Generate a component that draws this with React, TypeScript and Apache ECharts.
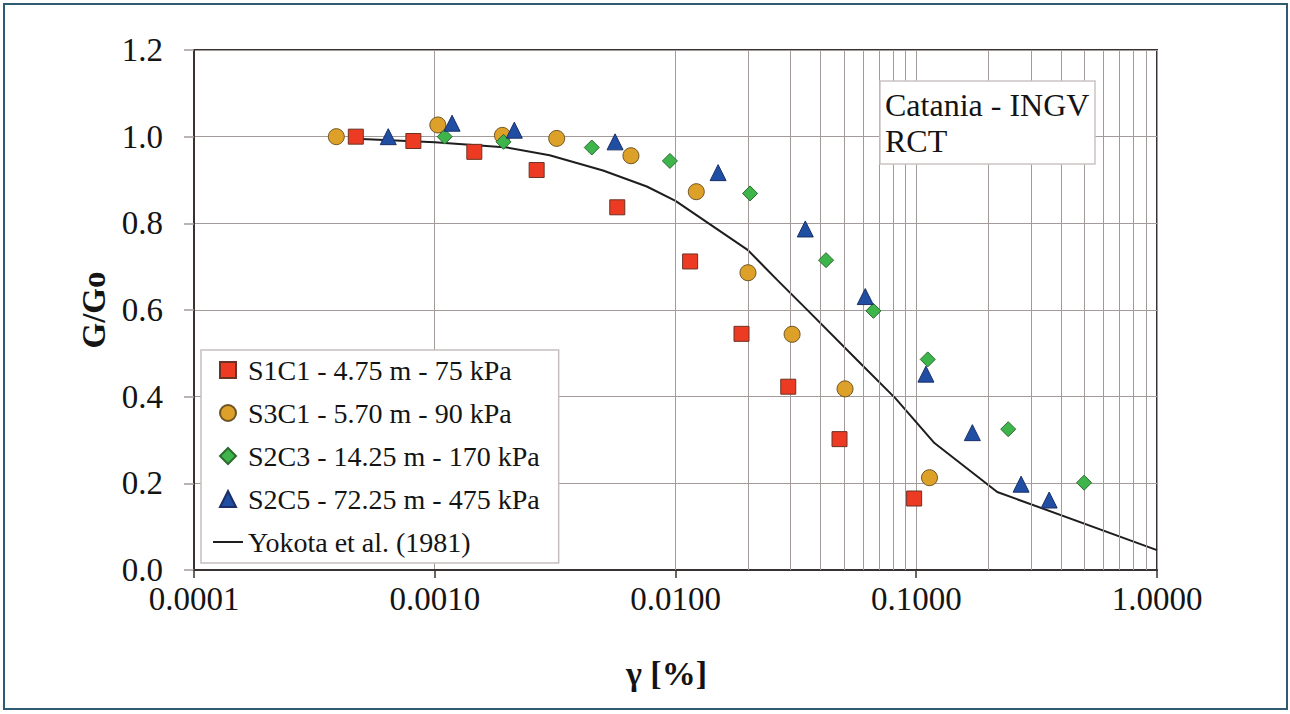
import { useEffect, useRef } from "react";
import * as echarts from "echarts";

// ---- data ----
const seriesNames = [
  "S1C1 - 4.75 m - 75 kPa",
  "S3C1 - 5.70 m - 90 kPa",
  "S2C3 - 14.25 m - 170 kPa",
  "S2C5 - 72.25 m - 475 kPa",
  "Yokota et al. (1981)",
];

const s1c1Strain = [0.00047, 0.000815, 0.00146, 0.00265, 0.00573, 0.0115, 0.0188, 0.0294, 0.048, 0.098];
const s1c1Ratio = [1.0, 0.99, 0.965, 0.923, 0.837, 0.712, 0.545, 0.423, 0.302, 0.165];

const s3c1Strain = [0.00039, 0.00103, 0.00191, 0.00321, 0.00653, 0.0122, 0.02, 0.0305, 0.0506, 0.1135];
const s3c1Ratio = [1.0, 1.027, 1.003, 0.996, 0.956, 0.873, 0.686, 0.544, 0.418, 0.213];

const s2c3Strain = [0.0011, 0.00193, 0.00449, 0.00948, 0.0204, 0.0422, 0.0664, 0.1116, 0.241, 0.498];
const s2c3Ratio = [1.0, 0.988, 0.975, 0.944, 0.869, 0.715, 0.598, 0.486, 0.325, 0.2015];

const s2c5Strain = [0.000641, 0.00118, 0.00214, 0.00561, 0.01503, 0.0346, 0.0614, 0.1097, 0.171, 0.2726, 0.3565];
const s2c5Ratio = [1.0, 1.031, 1.015, 0.988, 0.917, 0.787, 0.631, 0.452, 0.317, 0.198, 0.1615];

const yokotaStrain = [0.00047, 0.001, 0.002, 0.003, 0.005, 0.0076, 0.01, 0.02, 0.0265, 0.035, 0.0576, 0.082, 0.119, 0.217, 1.0];
const yokotaRatio = [0.995, 0.987, 0.975, 0.957, 0.922, 0.885, 0.852, 0.738, 0.669, 0.602, 0.481, 0.396, 0.293, 0.18, 0.046];

const annotationLines = ["Catania - INGV", "RCT"];

const FONT = "Liberation Serif";
const AXIS_COLOR = "#3a3232";
const GRID_COLOR = "#a39a9a";

// legend icons (aspect kept inside the 30x16 legend item box)
const ICON_SQUARE = "path://M0,0H16V16H0Z";
const ICON_CIRCLE = "path://M8,0A8,8 0 1,1 8,16A8,8 0 1,1 8,0Z";
const ICON_DIAMOND = "path://M8,0L16,8L8,16L0,8Z";
const ICON_TRIANGLE = "path://M8,0L16,16L0,16Z";
const ICON_LINE = "path://M0,0H30V2H0Z";

function pairs(xs: number[], ys: number[]) {
  return xs.map((x, i) => [x, ys[i]]);
}

export default function App() {
  const ref = useRef<HTMLDivElement>(null);

  useEffect(() => {
    if (!ref.current) return;
    const chart = echarts.init(ref.current, null, { renderer: "svg" });

    // minor vertical grid lines at 2..9 x 10^k (log axis)
    const minorGrid: number[] = [];
    for (let k = -4; k < 0; k++) {
      for (let m = 2; m <= 9; m++) minorGrid.push(Number((m * Math.pow(10, k)).toPrecision(3)));
    }

    const scatterBase = (name: string, xs: number[], ys: number[], symbol: string, size: number, color: string, border: string) => ({
      name,
      type: "scatter",
      data: pairs(xs, ys),
      symbol,
      symbolSize: size,
      z: 5,
      itemStyle: { color, borderColor: border, borderWidth: 1, opacity: 1 },
    });

    const option: any = {
      animation: false,
      backgroundColor: "#ffffff",
      textStyle: { fontFamily: FONT },
      grid: {
        left: 194,
        right: 133,
        top: 50,
        bottom: 144,
        show: true,
        borderColor: AXIS_COLOR,
        borderWidth: 2,
        backgroundColor: "transparent",
      },
      legend: {
        orient: "vertical",
        left: 201,
        top: 350,
        data: [
          { name: seriesNames[0], icon: ICON_SQUARE },
          { name: seriesNames[1], icon: ICON_CIRCLE },
          { name: seriesNames[2], icon: ICON_DIAMOND },
          { name: seriesNames[3], icon: ICON_TRIANGLE },
          { name: seriesNames[4], icon: ICON_LINE },
        ],
        symbolKeepAspect: true,
        itemWidth: 30,
        itemHeight: 16,
        itemGap: 7,
        padding: [2, 19, 3, 12],
        backgroundColor: "#ffffff",
        borderColor: "#c6bebe",
        borderWidth: 1.5,
        borderRadius: 0,
        selectedMode: false,
        textStyle: { fontFamily: FONT, fontSize: 28, color: "#141414", lineHeight: 36 },
      },
      xAxis: {
        type: "log",
        logBase: 10,
        min: 0.0001,
        max: 1,
        name: "γ [%]",
        nameLocation: "middle",
        nameGap: 86,
        nameTextStyle: {
          fontFamily: FONT,
          fontSize: 34,
          fontWeight: "bold",
          color: "#141414",
          padding: [0, 18, 0, 0],
        },
        axisLine: { show: true, onZero: false, lineStyle: { color: AXIS_COLOR, width: 2 } },
        axisTick: { show: true, inside: false, length: 8, lineStyle: { color: AXIS_COLOR, width: 1.5 } },
        axisLabel: {
          show: true,
          fontFamily: FONT,
          fontSize: 33,
          color: "#141414",
          margin: 12,
          formatter: (v: number) => Number(v).toFixed(4),
        },
        splitLine: { show: true, lineStyle: { color: GRID_COLOR, width: 1 } },
        minorTick: { show: false },
        minorSplitLine: { show: false },
      },
      yAxis: {
        type: "value",
        min: 0,
        max: 1.2,
        interval: 0.2,
        name: "G/Go",
        nameLocation: "middle",
        nameGap: 80,
        nameRotate: 90,
        nameTextStyle: { fontFamily: FONT, fontSize: 33, fontWeight: "bold", color: "#141414" },
        axisLine: { show: true, lineStyle: { color: AXIS_COLOR, width: 2 } },
        axisTick: { show: true, inside: false, length: 10, lineStyle: { color: GRID_COLOR, width: 1.5 } },
        axisLabel: {
          show: true,
          fontFamily: FONT,
          fontSize: 33,
          color: "#141414",
          margin: 31,
          formatter: (v: number) => Number(v).toFixed(1),
        },
        splitLine: { show: true, lineStyle: { color: GRID_COLOR, width: 1 } },
      },
      series: [
        {
          name: "gridlines",
          type: "line",
          data: [],
          silent: true,
          z: 1,
          markLine: {
            silent: true,
            symbol: ["none", "none"],
            label: { show: false },
            lineStyle: { color: GRID_COLOR, width: 1, type: "solid" },
            emphasis: { disabled: true },
            data: minorGrid.map((v) => ({ xAxis: v })),
          },
        },
        {
          name: seriesNames[4],
          type: "line",
          data: pairs(yokotaStrain, yokotaRatio),
          symbol: "none",
          showSymbol: false,
          smooth: false,
          z: 3,
          lineStyle: { color: "#1e1e1e", width: 2 },
          itemStyle: { color: "#1e1e1e" },
        },
        scatterBase(seriesNames[0], s1c1Strain, s1c1Ratio, "rect", 15, "#ec3b22", "#6b3324"),
        scatterBase(seriesNames[1], s3c1Strain, s3c1Ratio, "circle", 16, "#dda12a", "#6e5424"),
        scatterBase(seriesNames[2], s2c3Strain, s2c3Ratio, "diamond", 15, "#3db54a", "#2c6a32"),
        scatterBase(seriesNames[3], s2c5Strain, s2c5Ratio, "triangle", 16, "#1f4ea3", "#1b2f66"),
      ],
      graphic: [
        {
          type: "rect",
          z: 0,
          silent: true,
          shape: { x: 4, y: 4, width: 1283, height: 705 },
          style: { fill: "none", stroke: "#2e5a72", lineWidth: 2 },
        },
        {
          type: "group",
          z: 100,
          children: [
            {
              type: "rect",
              z: 100,
              shape: { x: 880, y: 81, width: 215, height: 83 },
              style: { fill: "#ffffff", stroke: "#cbc3c3", lineWidth: 1.5 },
            },
            {
              type: "text",
              z: 101,
              x: 885,
              y: 87,
              style: {
                text: annotationLines.join("\n"),
                fontFamily: FONT,
                fontSize: 32,
                lineHeight: 36,
                fill: "#141414",
                align: "left",
                verticalAlign: "top",
              },
            },
          ],
        },
      ],
    };

    chart.setOption(option);
    return () => chart.dispose();
  }, []);

  return (
    <div
      ref={ref}
      style={{ position: "absolute", left: 0, top: 0, width: 1290, height: 714, background: "#ffffff" }}
    />
  );
}
